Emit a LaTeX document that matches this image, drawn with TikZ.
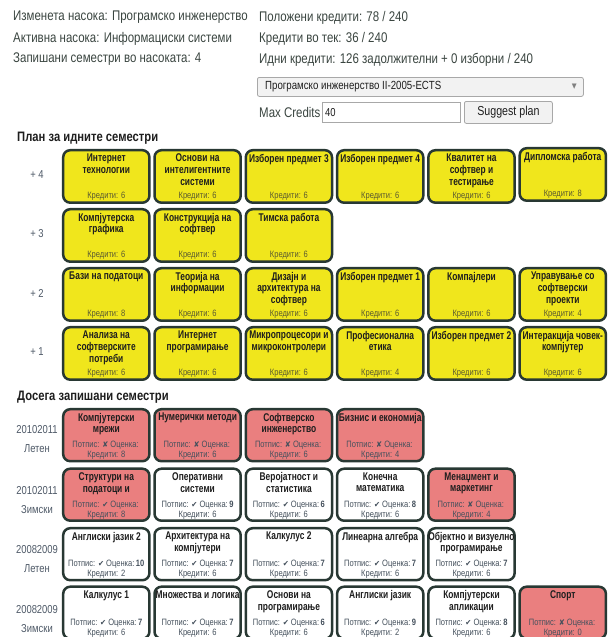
\documentclass[tikz,border=0pt]{standalone}
\usepackage{fontspec}
\setmainfont{Liberation Sans}[FakeStretch=0.82]
\newfontfamily\tfont{Liberation Sans}[FakeStretch=0.75]
\newfontfamily\symfont{DejaVu Sans}[FakeStretch=0.9]
\definecolor{yel}{HTML}{F0E61C}
\definecolor{redf}{HTML}{EA7F7F}
\definecolor{bordc}{HTML}{283833}
\definecolor{txtc}{HTML}{3A4540}
\definecolor{headc}{HTML}{1E1E1E}
\definecolor{credc}{HTML}{5A5A30}
\definecolor{infoc}{HTML}{44505C}
\definecolor{labc}{HTML}{4F5A68}
\definecolor{ctrlb}{HTML}{A8A8A8}
\definecolor{ctrlf}{HTML}{F2F2F2}

\newcommand{\PB}[5]{%
  \node[pbox] (#1) at (#2,#3) {};
  \node[ptitle] (#1-t) at ([yshift=-3.5pt]#1.north) {#4};
  \node[pcred] (#1-c) at ([yshift=2.5pt]#1.south) {Кредити: #5};
}
\newcommand{\DB}[8]{%
  \node[dbox, fill=#4] (#1) at (#2,#3) {};
  \node[ptitle] (#1-t) at ([yshift=-3.5pt]#1.north) {#5};
  \node[dinfo] (#1-i) at ([yshift=1.5pt]#1.south) {Потпис: {\symfont\fontsize{8}{10}\selectfont #6} Оценка:\,\textbf{#7}\\Кредити: #8};
}

\begin{document}
\begin{tikzpicture}[x=1pt,y=-1pt,
  hdr/.style={anchor=west, inner sep=0, text=txtc, font=\fontsize{14}{16}\selectfont},
  heading/.style={anchor=west, inner sep=0, text=headc, font=\bfseries\fontsize{13.7}{16}\selectfont},
  pbox/.style={draw=bordc, fill=yel, line width=2.5pt, rounded corners=7pt,
    minimum width=86.2pt, minimum height=52.5pt, anchor=north west, inner sep=0, outer sep=0},
  dbox/.style={pbox, minimum height=52pt},
  ptitle/.style={anchor=north, inner sep=0, align=center, text=headc,
    font=\tfont\bfseries\fontsize{11.2}{11.8}\selectfont},
  pcred/.style={anchor=south, inner sep=0, text=credc, font=\fontsize{9.2}{10}\selectfont},
  dinfo/.style={anchor=south, inner sep=0, align=center, text=infoc, font=\fontsize{9.2}{10}\selectfont},
  lab/.style={inner sep=0, align=center, text=labc, font=\fontsize{11.5}{19}\selectfont},
  ctrl/.style={draw=ctrlb, line width=0.8pt, anchor=north west, inner sep=0}
]
\useasboundingbox (0,0) rectangle (609,637);
\fill[white] (0,0) rectangle (609,637);

% header
\node[hdr] (h1) at (13,17.5) {Изменета насока: Програмско инженерство};
\node[hdr] (h2) at (13,38.5) {Активна насока: Информациски системи};
\node[hdr] (h3) at (13,59.5) {Запишани семестри во насоката: 4};
\node[hdr] (h4) at (259,17.5) {Положени кредити: 78 / 240};
\node[hdr] (h5) at (259,38.5) {Кредити во тек: 36 / 240};
\node[hdr] (h6) at (259,59.5) {Идни кредити: 126 задолжителни + 0 изборни / 240};

% dropdown
\node[ctrl, fill=ctrlf, rounded corners=2pt, minimum width=326pt, minimum height=19pt] (dd) at (257,77) {};
\node[anchor=west, inner sep=0, text=headc, font=\fontsize{11.8}{13}\selectfont] (ddt) at ([xshift=8pt]dd.west) {Програмско инженерство II-2005-ECTS};
\node[anchor=east, inner sep=0, text=gray, font=\symfont\fontsize{7}{8}\selectfont] (dda) at ([xshift=-7pt]dd.east) {▼};

% max credits
\node[hdr] (mc) at (259,112) {Max Credits};
\node[ctrl, fill=white, minimum width=138pt, minimum height=20pt] (inp) at (322,102) {};
\node[anchor=west, inner sep=0, text=headc, font=\fontsize{11.5}{13}\selectfont] (inpt) at ([xshift=3pt]inp.west) {40};
\node[ctrl, fill=ctrlf, rounded corners=2pt, minimum width=88pt, minimum height=22pt] (btn) at (464,101) {};
\node[inner sep=0, text=headc, font=\fontsize{13}{14}\selectfont] (btnt) at (btn.center) {Suggest plan};

% plan
\node[heading] (plan) at (17,138) {План за идните семестри};
\node[lab] (l4) at (37,175) {+ 4};
\node[lab] (l3) at (37,234) {+ 3};
\node[lab] (l2) at (37,293) {+ 2};
\node[lab] (l1) at (37,352) {+ 1};

\PB{p41}{63.2}{150.2}{Интернет\\технологии}{6}
\PB{p42}{154.5}{150.2}{Основи на\\интелигентните\\системи}{6}
\PB{p43}{245.8}{150.2}{Изборен предмет 3}{6}
\PB{p44}{337.1}{150.2}{Изборен предмет 4}{6}
\PB{p45}{428.4}{150.2}{Квалитет на\\софтвер и\\тестирање}{6}
\PB{p46}{519.7}{148.2}{Дипломска работа}{8}

\PB{p31}{63.2}{209.2}{Компјутерска\\графика}{6}
\PB{p32}{154.5}{209.2}{Конструкција на\\софтвер}{6}
\PB{p33}{245.8}{209.2}{Тимска работа}{6}

\PB{p21}{63.2}{268.2}{Бази на податоци}{8}
\PB{p22}{154.5}{268.2}{Теорија на\\информации}{6}
\PB{p23}{245.8}{268.2}{Дизајн и\\архитектура на\\софтвер}{6}
\PB{p24}{337.1}{268.2}{Изборен предмет 1}{6}
\PB{p25}{428.4}{268.2}{Компајлери}{6}
\PB{p26}{519.7}{268.2}{Управување со\\софтверски\\проекти}{4}

\PB{p11}{63.2}{327.2}{Анализа на\\софтверските\\потреби}{6}
\PB{p12}{154.5}{327.2}{Интернет\\програмирање}{6}
\PB{p13}{245.8}{327.2}{Микропроцесори и\\микроконтролери}{6}
\PB{p14}{337.1}{327.2}{Професионална\\етика}{4}
\PB{p15}{428.4}{327.2}{Изборен предмет 2}{6}
\PB{p16}{519.7}{327.2}{Интеракција човек-\\компјутер}{6}

% done
\node[heading] (done) at (17,397) {Досега запишани семестри};
\node[lab] (s1) at (37,439) {20102011\\Летен};
\node[lab] (s2) at (37,500) {20102011\\Зимски};
\node[lab] (s3) at (37,559) {20082009\\Летен};
\node[lab] (s4) at (37,619) {20082009\\Зимски};

\DB{d11}{63.2}{409.2}{redf}{Компјутерски\\мрежи}{✘}{}{8}
\DB{d12}{154.5}{409.2}{redf}{Нумерички методи}{✘}{}{6}
\DB{d13}{245.8}{409.2}{redf}{Софтверско\\инженерство}{✘}{}{6}
\DB{d14}{337.1}{409.2}{redf}{Бизнис и економија}{✘}{}{4}

\DB{d21}{63.2}{468.7}{redf}{Структури на\\податоци и}{✔}{}{8}
\DB{d22}{154.5}{468.7}{white}{Оперативни\\системи}{✔}{9}{6}
\DB{d23}{245.8}{468.7}{white}{Веројатност и\\статистика}{✔}{6}{6}
\DB{d24}{337.1}{468.7}{white}{Конечна\\математика}{✔}{8}{6}
\DB{d25}{428.4}{468.7}{redf}{Менаџмент и\\маркетинг}{✘}{}{4}

\DB{d31}{63.2}{528.2}{white}{Англиски јазик 2}{✔}{10}{2}
\DB{d32}{154.5}{528.2}{white}{Архитектура на\\компјутери}{✔}{7}{6}
\DB{d33}{245.8}{528.2}{white}{Калкулус 2}{✔}{7}{6}
\DB{d34}{337.1}{528.2}{white}{Линеарна алгебра}{✔}{7}{6}
\DB{d35}{428.4}{528.2}{white}{Објектно и визуелно\\програмирање}{✔}{7}{6}

\DB{d41}{63.2}{586.7}{white}{Калкулус 1}{✔}{7}{6}
\DB{d42}{154.5}{586.7}{white}{Множества и логика}{✔}{7}{6}
\DB{d43}{245.8}{586.7}{white}{Основи на\\програмирање}{✔}{6}{6}
\DB{d44}{337.1}{586.7}{white}{Англиски јазик}{✔}{9}{2}
\DB{d45}{428.4}{586.7}{white}{Компјутерски\\апликации}{✔}{8}{6}
\DB{d46}{519.7}{586.7}{redf}{Спорт}{✘}{}{0}
\end{tikzpicture}
\end{document}
